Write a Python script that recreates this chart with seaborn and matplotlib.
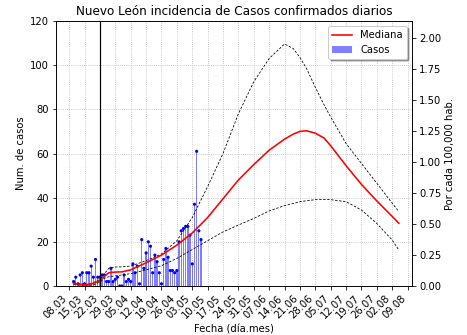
import numpy as np
import pandas as pd
import matplotlib
matplotlib.use("Agg")
import matplotlib.pyplot as plt
from matplotlib.lines import Line2D
from matplotlib.patches import Patch
from matplotlib.ticker import FormatStrFormatter
import seaborn as sns

# --- data -------------------------------------------------------------
inicio = pd.Timestamp("2020-03-08")

# daily confirmed cases, 10.03 .. 07.05
dias_casos = np.arange(2, 61)
casos = [2, 4, 1, 5, 6, 1, 6, 6, 9, 4,
         12, 4, 4, 5, 5, 2, 2, 8, 2, 3,
         4, 0, 0, 5, 2, 3, 2, 10, 6, 9,
         1, 21, 8, 15, 20, 18, 6, 14, 11, 6,
         1, 12, 17, 13, 7, 7, 6, 7, 20, 25,
         26, 27, 27, 23, 10, 37, 61, 25, 21]

# projected incidence (median and band)
dias_curva = [2, 5, 8, 11, 14, 16, 18, 21, 24, 28, 35, 42, 49, 56, 63, 70,
              77, 84, 91, 98, 102, 105, 108, 112, 116, 119, 126, 133, 140,
              147, 150]
mediana = [1.2, 0.7, 0.5, 1.2, 2.5, 4.3, 6.0, 6.3, 6.4, 7.3, 10.5, 14.0,
           18.5, 24.0, 31.0, 39.5, 48.0, 55.0, 61.5, 66.5, 68.8, 70.0, 70.3,
           69.2, 67.0, 63.5, 54.5, 46.0, 38.5, 31.5, 28.4]
superior = [1.5, 1.0, 0.8, 1.5, 3.0, 5.5, 8.0, 8.6, 8.7, 9.0, 11.5, 14.5,
            20.5, 31.0, 45.0, 60.0, 78.0, 92.5, 103.0, 109.6, 107.5, 103.5,
            98.5, 90.0, 82.0, 76.5, 64.5, 55.5, 46.5, 37.5, 33.7]
inferior = [0.8, 0.3, 0.1, 0.5, 1.8, 3.5, 4.2, 4.6, 5.0, 5.6, 7.3, 9.2,
            12.5, 16.5, 20.5, 24.5, 27.6, 30.6, 34.0, 36.4, 37.4, 38.2,
            38.6, 39.1, 39.2, 39.1, 38.2, 34.4, 28.3, 20.8, 16.3]

etiquetas_x = ["08.03", "15.03", "22.03", "29.03", "05.04", "12.04", "19.04",
               "26.04", "03.05", "10.05", "17.05", "24.05", "31.05", "07.06",
               "14.06", "21.06", "28.06", "05.07", "12.07", "19.07", "26.07",
               "02.08", "09.08"]

poblacion = 5_610_000
fecha_corte = "2020-03-22"

# --- frames -----------------------------------------------------------
df_casos = pd.DataFrame({
    "fecha": inicio + pd.to_timedelta(dias_casos, unit="D"),
    "casos": casos,
})
df_curva = pd.DataFrame({
    "fecha": inicio + pd.to_timedelta(dias_curva, unit="D"),
    "mediana": mediana,
    "superior": superior,
    "inferior": inferior,
})
fechas_ticks = [pd.Timestamp(f"2020-{e[3:]}-{e[:2]}") for e in etiquetas_x]

# --- figure -----------------------------------------------------------
fig = plt.figure(figsize=(467 / 72, 335 / 72), dpi=72)
ax = fig.add_axes([56 / 467, 1 - 286 / 335, 356 / 467, 265 / 335])

ax.bar(df_casos["fecha"], df_casos["casos"], width=0.6,
       color="blue", alpha=0.5, zorder=2)
sns.scatterplot(data=df_casos, x="fecha", y="casos", ax=ax, color="blue",
                marker="o", s=10, edgecolor="none", zorder=3, legend=False)

sns.lineplot(data=df_curva, x="fecha", y="superior", ax=ax, color="black",
             linestyle=(0, (3, 2)), linewidth=0.8, zorder=4)
sns.lineplot(data=df_curva, x="fecha", y="inferior", ax=ax, color="black",
             linestyle=(0, (3, 2)), linewidth=0.8, zorder=4)
sns.lineplot(data=df_curva, x="fecha", y="mediana", ax=ax, color="red",
             linewidth=1.6, zorder=5)

ax.axvline(pd.Timestamp(fecha_corte), color="black", linewidth=1.2, zorder=6)

ax.set_xlim(pd.Timestamp("2020-03-02"), pd.Timestamp("2020-08-11"))
ax.set_ylim(0, 120)
ax.set_yticks(np.arange(0, 121, 20))
ax.set_xticks(fechas_ticks)
ax.set_xticklabels(etiquetas_x, rotation=45, ha="right")
ax.grid(True, linestyle=":", color="0.7", linewidth=0.8)
ax.set_axisbelow(True)

ax.set_title("Nuevo León incidencia de Casos confirmados diarios", fontsize=12)
ax.set_xlabel("Fecha (día.mes)", fontsize=10)
ax.set_ylabel("Num. de casos", fontsize=10)
ax.tick_params(labelsize=10)

ax2 = ax.twinx()
ax2.set_ylim(0, 120 * 100000 / poblacion)
ax2.set_yticks(np.arange(0, 2.01, 0.25))
ax2.yaxis.set_major_formatter(FormatStrFormatter("%.2f"))
ax2.set_ylabel("Por cada 100,000 hab.", fontsize=10)
ax2.tick_params(labelsize=10)

handles = [Line2D([0], [0], color="red", linewidth=1.6),
           Patch(facecolor="blue", alpha=0.5)]
ax.legend(handles, ["Mediana", "Casos"], loc="upper right", shadow=True,
          fontsize=10, framealpha=1)

fig.savefig("out.png", dpi=72)
